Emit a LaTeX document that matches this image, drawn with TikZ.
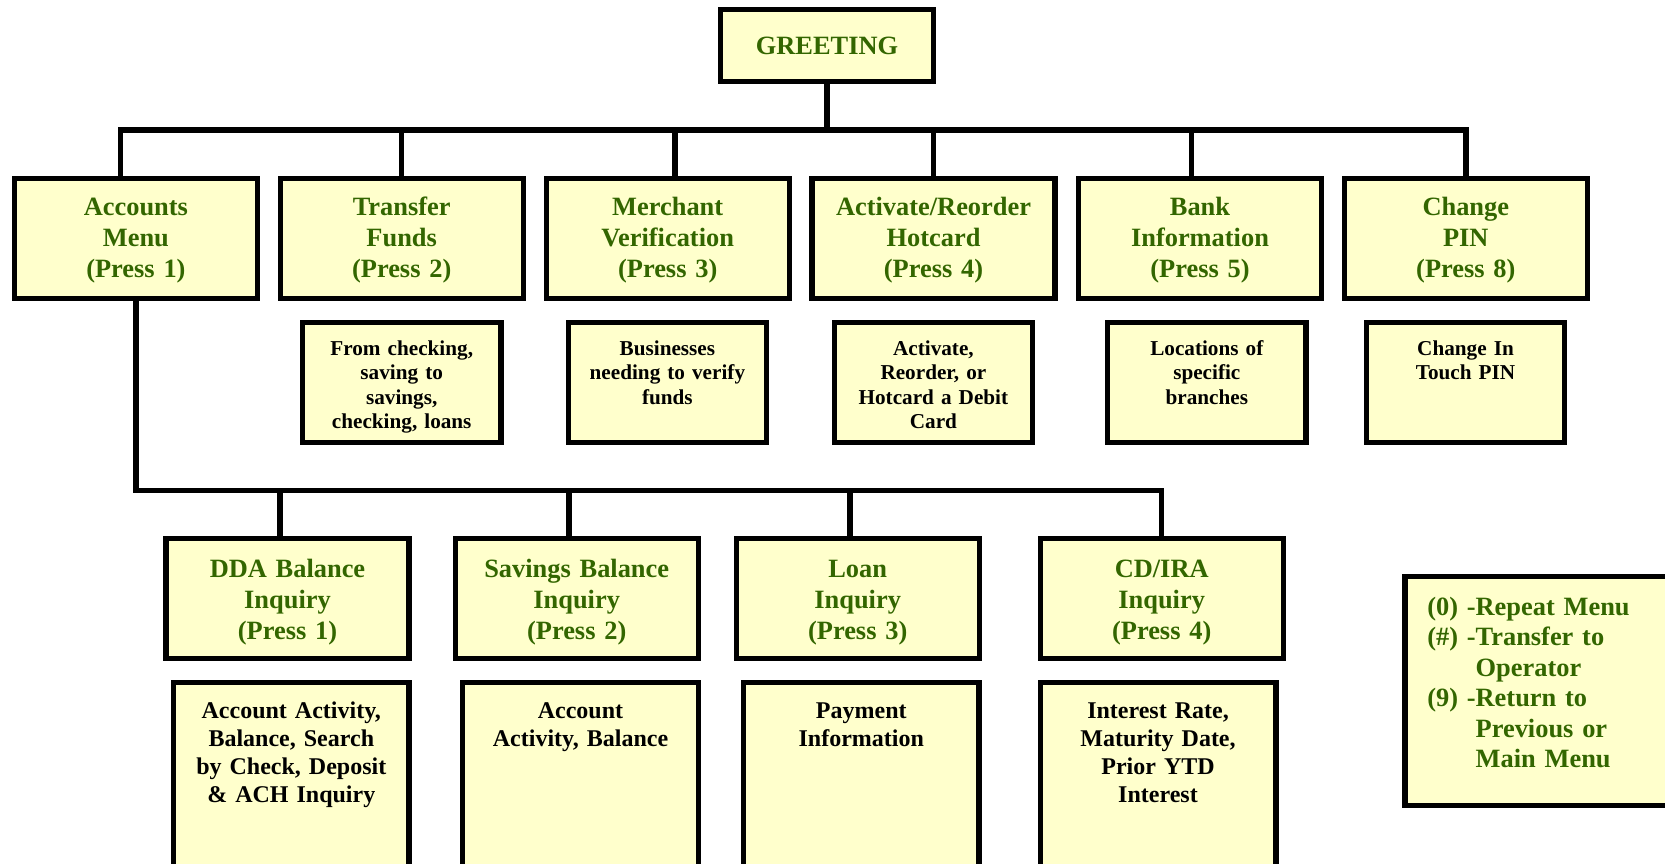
\documentclass[tikz,border=0pt]{standalone}
\usepackage{fontspec}
\setmainfont{Liberation Serif}
\definecolor{menugreen}{RGB}{51,102,0}
\definecolor{boxfill}{RGB}{255,255,204}

\begin{document}
\begin{tikzpicture}[x=0.5pt,y=-0.5pt,
    wire/.style={line width=2.7pt},
    basebox/.style={draw=black,line width=2.7pt,fill=boxfill,inner sep=0pt,outer sep=0pt,align=center},
    menubox/.style={basebox,anchor=north,text=menugreen,font=\bfseries\fontsize{13.2}{15.5}\selectfont,
        minimum width=121.5pt,text width=116pt,text height=18.25pt,text depth=41.75pt},
    lowbox/.style={menubox,text height=19.25pt,text depth=40.75pt},
    notebox/.style={basebox,anchor=north,font=\bfseries\fontsize{10.6}{12.2}\selectfont,
        minimum width=99.2pt,text width=95pt,text height=16.5pt,text depth=43.5pt},
    infobox/.style={basebox,anchor=north,font=\bfseries\fontsize{12}{14}\selectfont,
        minimum width=117.8pt,text width=112pt,text height=18.1pt,text depth=81.9pt}]

    \useasboundingbox (0,0) rectangle (1665,863);

    \node[basebox,text=menugreen,font=\bfseries\fontsize{13.2}{15.5}\selectfont,
          minimum width=106.5pt,minimum height=36pt] (greet) at (827,45.5) {GREETING};

    \node[menubox] (acc) at (135.9,178.5) {Accounts\\Menu\\(Press 1)};
    \node[menubox] (tra) at (401.7,178.5) {Transfer\\Funds\\(Press 2)};
    \node[menubox] (mer) at (667.7,178.5) {Merchant\\Verification\\(Press 3)};
    \node[menubox] (act) at (933.5,178.5) {Activate/Reorder\\Hotcard\\(Press 4)};
    \node[menubox] (bnk) at (1200,178.5) {Bank\\Information\\(Press 5)};
    \node[menubox] (pin) at (1465.8,178.5) {Change\\PIN\\(Press 8)};

    \node[notebox] (traN) at (401.7,322.5) {From checking,\\saving to\\savings,\\checking, loans};
    \node[notebox] (merN) at (667.4,322.5) {Businesses\\needing to verify\\funds};
    \node[notebox] (actN) at (933.4,322.5) {Activate,\\Reorder, or\\Hotcard a Debit\\Card};
    \node[notebox] (bnkN) at (1206.8,322.5) {Locations of\\specific\\branches};
    \node[notebox] (pinN) at (1465.5,322.5) {Change In\\Touch PIN};

    \node[lowbox] (dda) at (287.5,538.5) {DDA Balance\\Inquiry\\(Press 1)};
    \node[lowbox] (sav) at (576.7,538.5) {Savings Balance\\Inquiry\\(Press 2)};
    \node[lowbox] (loan) at (857.7,538.5) {Loan\\Inquiry\\(Press 3)};
    \node[lowbox] (cd) at (1161.7,538.5) {CD/IRA\\Inquiry\\(Press 4)};

    \node[infobox] (ddaN) at (291.3,682.5) {Account Activity,\\Balance, Search\\by Check, Deposit\\\& ACH Inquiry};
    \node[infobox] (savN) at (580.5,682.5) {Account\\Activity, Balance};
    \node[infobox] (loanN) at (861.3,682.5) {Payment\\Information};
    \node[infobox] (cdN) at (1158,682.5) {Interest Rate,\\Maturity Date,\\Prior YTD\\Interest};

    \node[basebox,anchor=north west,align=left,text=menugreen,font=\bfseries\fontsize{13.2}{15.25}\selectfont,
          text width=125pt,inner xsep=11.25pt,text height=19.25pt,text depth=95.35pt] (legend) at (1404.8,576.5)
        {\begin{tabular}[t]{@{}l@{}l@{}}(0) -&Repeat Menu\\(\#) -&Transfer to\\&Operator\\(9) -&Return to\\&Previous or\\&Main Menu\end{tabular}};

    \coordinate (bus) at (827,130);
    \coordinate (bus2) at (135.9,490.5);
    \draw[wire] (greet.south) -- (greet.south |- bus);
    \draw[wire] ([xshift=-7.6pt]acc.north) |- (bus -| pin.north) -- (pin.north);
    \foreach \n/\dx in {tra/0,mer/3.65,act/0,bnk/-4.15}{
        \coordinate (drop) at ([xshift=\dx pt]\n.north);
        \draw[wire] (drop) -- (drop |- bus);
    }
    \draw[wire] (acc.south) |- (bus2 -| cd.north) -- (cd.north);
    \foreach \n/\dx in {dda/-3.75,sav/-3.85,loan/-3.85}{
        \coordinate (drop) at ([xshift=\dx pt]\n.north);
        \draw[wire] (drop) -- (drop |- bus2);
    }
\end{tikzpicture}
\end{document}
